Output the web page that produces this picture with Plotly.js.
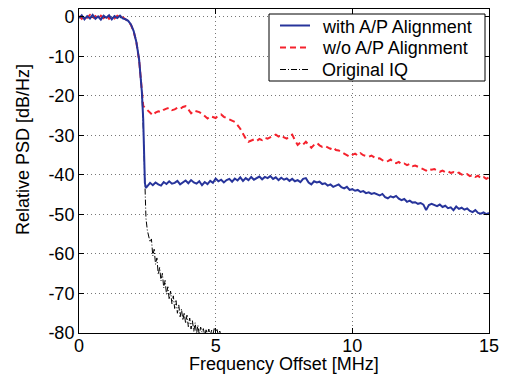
<!DOCTYPE html>
<html>
<head>
<meta charset="utf-8">
<script src="https://cdn.plot.ly/plotly-3.0.1.min.js"></script>
<style>html,body{margin:0;padding:0;background:#fff;}#chart{width:509px;height:376px;}</style>
</head>
<body>
<div id="chart"></div>
<script>
// Frequency offsets [MHz] and relative PSD [dB/Hz]
const freqWith = [0,0.1,0.2,0.3,0.4,0.5,0.6,0.7,0.8,0.9,1.0,1.1,1.2,1.3,1.4,1.5,1.6,1.7,1.8,1.9,2.0,2.1,2.2,2.25,2.3,2.35,2.38,2.41,2.45,
  2.5,2.6,2.7,2.8,2.9,3.0,3.1,3.2,3.3,3.4,3.5,3.6,3.7,3.8,3.9,4.0,4.1,4.2,4.3,4.4,4.5,4.6,4.7,4.8,4.9,5.0,
  5.1,5.2,5.3,5.4,5.5,5.6,5.7,5.8,5.9,6.0,6.1,6.2,6.3,6.4,6.5,6.6,6.7,6.8,6.9,7.0,7.1,7.2,7.3,7.4,7.5,7.6,7.7,7.8,7.9,8.0,
  8.1,8.2,8.3,8.4,8.5,8.6,8.7,8.8,8.9,9.0,9.1,9.2,9.3,9.4,9.5,9.6,9.7,9.8,9.9,10.0,10.1,10.2,10.3,10.4,10.5,10.6,10.7,10.8,10.9,11.0,
  11.1,11.2,11.3,11.4,11.5,11.6,11.7,11.8,11.9,12.0,12.1,12.2,12.3,12.4,12.5,12.6,12.7,12.8,12.9,13.0,13.1,13.2,13.3,13.4,13.5,13.6,13.7,13.8,13.9,14.0,
  14.1,14.2,14.3,14.4,14.5,14.6,14.7,14.8,14.9,15.0];
const psdWith = [-0.3,0.4,-0.6,0.2,-0.4,0.5,-0.5,0.1,-0.7,0.3,-0.2,0.4,-0.6,0.2,-0.3,0.3,-0.4,-0.6,-1.0,-1.9,-3.6,-6.4,-10.8,-14.5,-19.0,-26.0,-35.0,-42.0,-43.3,
  -42.8,-42.0,-42.6,-41.9,-42.4,-42.7,-41.8,-42.3,-41.6,-42.2,-42.0,-41.5,-42.4,-41.9,-41.4,-42.1,-41.3,-41.9,-42.2,-41.6,-42.6,-41.8,-42.3,-41.5,-42.0,-40.9,
  -41.6,-41.2,-41.9,-41.3,-41.0,-41.7,-40.9,-41.4,-40.6,-41.5,-40.8,-41.3,-40.5,-41.2,-40.9,-40.4,-41.1,-40.5,-40.8,-40.3,-41.0,-40.6,-41.3,-40.7,-41.2,-40.9,-41.5,-41.0,-41.6,-41.3,
  -41.8,-41.0,-40.8,-41.9,-42.4,-41.6,-41.9,-41.7,-42.3,-42.1,-42.7,-42.4,-43.0,-42.6,-42.4,-43.1,-43.4,-43.0,-43.8,-43.6,-44.0,-43.8,-44.3,-44.1,-44.6,-44.4,-44.8,-44.6,-45.0,-45.2,
  -44.8,-45.6,-45.9,-45.4,-45.7,-45.3,-46.0,-46.4,-46.1,-46.8,-46.5,-47.0,-46.9,-47.3,-47.1,-47.5,-48.9,-47.6,-47.3,-47.7,-47.9,-47.5,-48.1,-47.8,-48.4,-48.2,-48.9,-48.0,-48.6,-48.3,
  -48.8,-48.5,-49.1,-49.4,-48.9,-49.6,-49.8,-49.5,-49.9,-49.6];

const freqWithout = [0,0.1,0.2,0.3,0.4,0.5,0.6,0.7,0.8,0.9,1.0,1.1,1.2,1.3,1.4,1.5,1.6,1.7,1.8,1.9,2.0,2.1,2.2,2.25,2.3,2.35,2.4,
  2.5,2.6,2.7,2.8,2.9,3.0,3.1,3.2,3.3,3.4,3.5,3.6,3.7,3.8,3.9,4.0,4.1,4.2,4.3,4.4,4.5,4.6,4.7,4.8,4.9,5.0,
  5.1,5.2,5.3,5.4,5.5,5.6,5.7,5.8,5.9,6.0,6.1,6.2,6.3,6.4,6.5,6.6,6.7,6.8,6.9,7.0,7.1,7.2,7.3,7.4,7.5,7.6,7.7,7.8,7.9,8.0,
  8.1,8.2,8.3,8.4,8.5,8.6,8.7,8.8,8.9,9.0,9.1,9.2,9.3,9.4,9.5,9.6,9.7,9.8,9.9,10.0,10.1,10.2,10.3,10.4,10.5,10.6,10.7,10.8,10.9,11.0,
  11.1,11.2,11.3,11.4,11.5,11.6,11.7,11.8,11.9,12.0,12.1,12.2,12.3,12.4,12.5,12.6,12.7,12.8,12.9,13.0,13.1,13.2,13.3,13.4,13.5,13.6,13.7,13.8,13.9,14.0,
  14.1,14.2,14.3,14.4,14.5,14.6,14.7,14.8,14.9,15.0];
const psdWithout = [0.2,-0.5,0.3,-0.2,0.5,-0.4,0.2,-0.5,0.3,-0.3,0.4,-0.5,0.1,-0.4,0.3,-0.2,-0.1,-0.5,-1.1,-2.0,-3.7,-6.5,-11.0,-14.8,-19.5,-22.5,-22.9,
  -23.6,-24.1,-24.9,-24.2,-23.9,-24.1,-23.5,-23.2,-23.0,-23.6,-23.4,-23.0,-23.3,-22.8,-22.6,-23.4,-24.4,-23.7,-23.9,-24.1,-24.5,-25.2,-25.7,-25.1,-25.3,-25.6,
  -25.0,-24.7,-25.3,-25.6,-25.9,-26.1,-26.6,-27.4,-28.3,-29.6,-30.8,-31.6,-31.2,-31.0,-31.4,-30.9,-31.2,-30.6,-30.8,-30.4,-30.0,-29.8,-30.3,-29.9,-30.5,-30.8,-30.2,-29.8,-31.2,-32.4,
  -31.8,-32.3,-31.6,-32.5,-33.1,-32.4,-31.9,-32.5,-32.9,-32.7,-33.1,-33.4,-33.0,-33.7,-33.8,-34.1,-34.6,-35.0,-35.4,-34.9,-34.6,-35.1,-34.5,-35.0,-35.3,-35.4,-35.1,-35.6,-35.9,-35.8,
  -36.2,-36.7,-36.5,-36.1,-36.8,-37.0,-36.7,-37.3,-37.1,-37.5,-37.2,-37.8,-37.6,-37.9,-38.3,-38.5,-38.9,-38.4,-38.7,-38.5,-38.8,-39.2,-38.9,-39.3,-39.1,-39.5,-39.3,-39.7,-39.4,-39.9,
  -40.1,-39.8,-40.3,-40.0,-40.5,-40.2,-40.8,-40.5,-41.0,-40.6];

const freqOrig = [0,0.2,0.4,0.6,0.8,1.0,1.2,1.4,1.6,1.7,1.8,1.9,2.0,2.1,2.2,2.25,2.3,2.35,2.38,2.41,2.45,
  2.50,2.55,2.60,2.65,2.70,2.75,2.80,2.85,2.90,2.95,3.00,3.05,3.10,3.15,3.20,3.25,3.30,3.35,3.40,3.45,3.50,3.55,3.60,3.65,3.70,3.75,
  3.80,3.85,3.90,3.95,4.00,4.05,4.10,4.15,4.20,4.25,4.30,4.35,4.40,4.45,4.50,4.55,4.60,4.65,4.70,4.75,4.80,4.85,4.90,4.95,5.00,5.05,5.10,5.15,5.20];
const psdOrig = [-0.1,-0.1,-0.1,-0.1,-0.1,-0.1,-0.1,-0.1,-0.2,-0.5,-1.0,-1.9,-3.6,-6.4,-10.8,-14.6,-19.2,-28.0,-37.0,-46.0,-51.0,
  -54.0,-55.5,-57.0,-56.2,-60.5,-58.8,-62.6,-61.0,-65.2,-63.4,-66.8,-64.9,-68.6,-66.7,-70.2,-68.3,-71.5,-69.4,-72.6,-70.6,-73.8,-71.8,-75.0,-72.9,-75.9,-73.9,
  -76.8,-74.8,-77.6,-75.5,-78.4,-76.2,-79.0,-76.9,-79.6,-77.4,-80.3,-78.0,-80.5,-78.5,-79.8,-78.9,-80.6,-79.2,-80.4,-79.0,-80.8,-79.3,-80.5,-78.7,-79.6,-79.1,-80.6,-79.5,-81.0];

const seriesNames = ['with A/P Alignment','w/o A/P Alignment','Original IQ'];
const seriesColors = ['#27349b','#f5222d','#000000'];
const xTicks = [0,5,10,15];
const yTicks = [0,-10,-20,-30,-40,-50,-60,-70,-80];
const xTitle = 'Frequency Offset [MHz]';
const yTitle = 'Relative PSD [dB/Hz]';

const FONT = 'Liberation Sans, Arial, Helvetica, sans-serif';
const dashes = ['solid','6px,4px','6px,2px,1px,2px'];
const widths = [2,2,1];

const traces = [
  {x: freqOrig, y: psdOrig, name: seriesNames[2], mode: 'lines',
   line: {color: seriesColors[2], width: widths[2], dash: dashes[2]}},
  {x: freqWithout, y: psdWithout, name: seriesNames[1], mode: 'lines',
   line: {color: seriesColors[1], width: widths[1], dash: dashes[1]}},
  {x: freqWith, y: psdWith, name: seriesNames[0], mode: 'lines',
   line: {color: seriesColors[0], width: widths[0], dash: dashes[0]}}
];

// legend box drawn in paper coordinates (plot area px: x 79..489, y 9..333)
const px2x = p => (p - 79) / 410;
const px2y = p => (333 - p) / 324;
const legendRowsPx = [25.5, 47.5, 69.5];
const shapes = [
  {type: 'rect', xref: 'paper', yref: 'paper', x0: px2x(269), x1: px2x(485), y0: px2y(81), y1: px2y(14),
   line: {color: '#000', width: 1}, fillcolor: '#fff', layer: 'above'}
];
const annotations = [];
seriesNames.forEach((n, i) => {
  shapes.push({type: 'line', xref: 'paper', yref: 'paper', x0: px2x(280), x1: px2x(310),
    y0: px2y(legendRowsPx[i]), y1: px2y(legendRowsPx[i]),
    line: {color: seriesColors[i], width: widths[i], dash: dashes[i]}, layer: 'above'});
  annotations.push({xref: 'paper', yref: 'paper', x: px2x(320), y: px2y(legendRowsPx[i] + 1),
    xanchor: 'left', yanchor: 'middle', text: n, showarrow: false,
    font: {family: FONT, size: 18, color: '#000'}});
});
annotations.push({xref: 'paper', yref: 'paper', x: 0.5, y: px2y(364), xanchor: 'center', yanchor: 'middle',
  text: xTitle, showarrow: false, font: {family: FONT, size: 18, color: '#000'}});
annotations.push({xref: 'paper', yref: 'paper', x: px2x(23), y: px2y(150), xanchor: 'center', yanchor: 'middle',
  text: yTitle, textangle: -90, showarrow: false, font: {family: FONT, size: 18, color: '#000'}});

const layout = {
  width: 509, height: 376,
  margin: {l: 79, r: 20, t: 9, b: 43},
  paper_bgcolor: '#ffffff', plot_bgcolor: '#ffffff',
  font: {family: FONT, size: 18, color: '#000'},
  showlegend: false,
  shapes: shapes,
  annotations: annotations,
  xaxis: {range: [0, 15], tickvals: xTicks, ticktext: xTicks.map(String),
    showgrid: true, gridcolor: '#777', griddash: '1px,3px', gridwidth: 1, zeroline: false,
    showline: true, linecolor: '#000', linewidth: 1, mirror: 'ticks',
    ticks: 'inside', ticklen: 5, tickcolor: '#000', ticklabelstandoff: -4,
    automargin: false},
  yaxis: {range: [-80, 2], tickvals: yTicks, ticktext: yTicks.map(String),
    showgrid: true, gridcolor: '#777', griddash: '1px,3px', gridwidth: 1, zeroline: false,
    showline: true, linecolor: '#000', linewidth: 1, mirror: 'ticks',
    ticks: 'inside', ticklen: 5, tickcolor: '#000',
    automargin: false}
};

Plotly.newPlot('chart', traces, layout, {displayModeBar: false, staticPlot: true});
</script>
</body>
</html>
